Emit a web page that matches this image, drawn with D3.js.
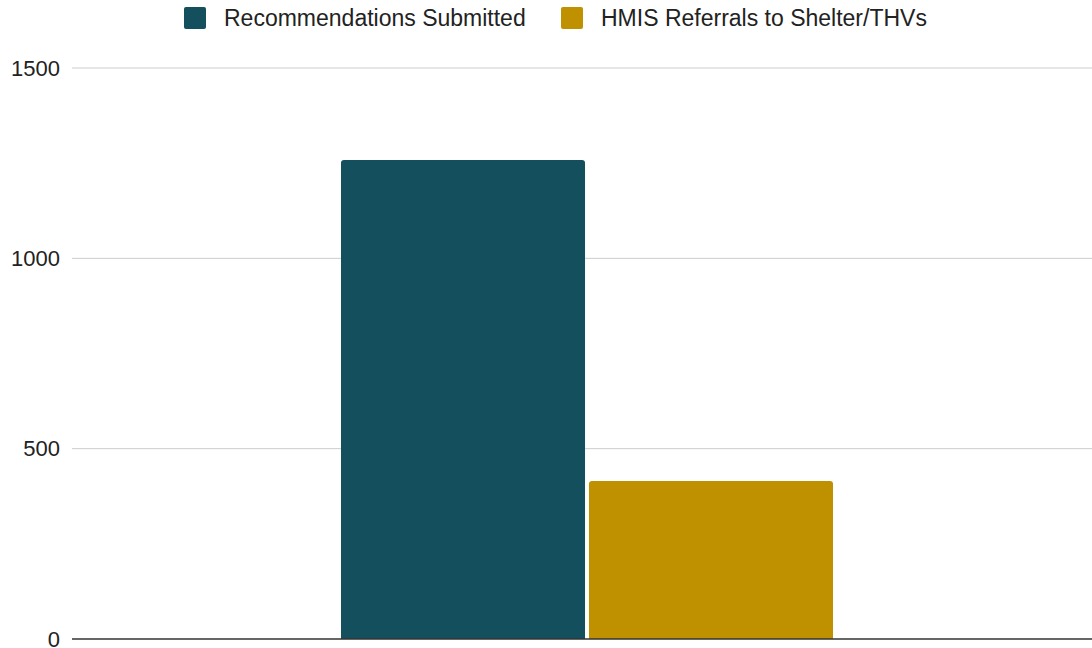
<!DOCTYPE html>
<html>
<head>
<meta charset="utf-8">
<script src="https://cdn.jsdelivr.net/npm/d3@7"></script>
<style>
  body { margin: 0; background: #fff; }
  text { font-family: "Liberation Sans", Arial, sans-serif; }
</style>
</head>
<body>
<svg id="chart" width="1092" height="648"></svg>
<script>
// data
var categories = [""];
var seriesNames = ["Recommendations Submitted", "HMIS Referrals to Shelter/THVs"];
var seriesValues = [[1258], [415]];
var seriesColors = ["#134f5c", "#bf9000"];
var yTicks = [0, 500, 1000, 1500];

var W = 1092, H = 648;
var margin = {top: 68, right: 0, bottom: 9, left: 72};

var svg = d3.select("#chart");

var x = d3.scaleBand()
    .domain(categories)
    .range([margin.left, W - margin.right])
    .paddingInner(0)
    .paddingOuter(0);

var xSeries = d3.scaleBand()
    .domain(d3.range(seriesNames.length))
    .range([x(categories[0]) + 269, x(categories[0]) + x.bandwidth() - 259])
    .paddingInner(0.016);

var y = d3.scaleLinear()
    .domain([0, 1500])
    .range([H - margin.bottom, margin.top]);

// gridlines
svg.append("g")
    .selectAll("line")
    .data(yTicks.filter(function(d){ return d > 0; }))
    .enter()
    .append("line")
    .attr("x1", margin.left)
    .attr("x2", W - margin.right)
    .attr("y1", function(d){ return y(d); })
    .attr("y2", function(d){ return y(d); })
    .attr("stroke", "#cccccc")
    .attr("stroke-width", 1);

// y labels
svg.append("g")
    .selectAll("text")
    .data(yTicks)
    .enter()
    .append("text")
    .attr("x", 60)
    .attr("y", function(d){ return y(d); })
    .attr("dy", "0.35em")
    .attr("text-anchor", "end")
    .attr("font-size", 22)
    .attr("fill", "#222")
    .text(function(d){ return d; });

// bars, rounded top corners
function barPath(x0, w, yTop, yBot, r){
    return "M" + x0 + "," + yBot +
        "V" + (yTop + r) +
        "Q" + x0 + "," + yTop + " " + (x0 + r) + "," + yTop +
        "H" + (x0 + w - r) +
        "Q" + (x0 + w) + "," + yTop + " " + (x0 + w) + "," + (yTop + r) +
        "V" + yBot + "Z";
}

seriesNames.forEach(function(name, s){
    svg.append("g")
        .selectAll("path")
        .data(categories)
        .enter()
        .append("path")
        .attr("fill", seriesColors[s])
        .attr("d", function(c, i){
            return barPath(xSeries(s), xSeries.bandwidth(), y(seriesValues[s][i]), y(0), 3);
        });
});

// baseline
svg.append("line")
    .attr("x1", margin.left)
    .attr("x2", W)
    .attr("y1", y(0))
    .attr("y2", y(0))
    .attr("stroke", "#333")
    .attr("stroke-width", 1.5);

// legend
var legendX = [184, 561];
var legend = svg.append("g")
    .selectAll("g")
    .data(seriesNames)
    .enter()
    .append("g")
    .attr("transform", function(d, i){ return "translate(" + legendX[i] + ",7)"; });

legend.append("rect")
    .attr("width", 22)
    .attr("height", 22)
    .attr("rx", 2)
    .attr("fill", function(d, i){ return seriesColors[i]; });

legend.append("text")
    .attr("x", 40)
    .attr("y", 11)
    .attr("dy", "0.35em")
    .attr("font-size", 23)
    .attr("fill", "#222")
    .text(function(d){ return d; });
</script>
</body>
</html>
